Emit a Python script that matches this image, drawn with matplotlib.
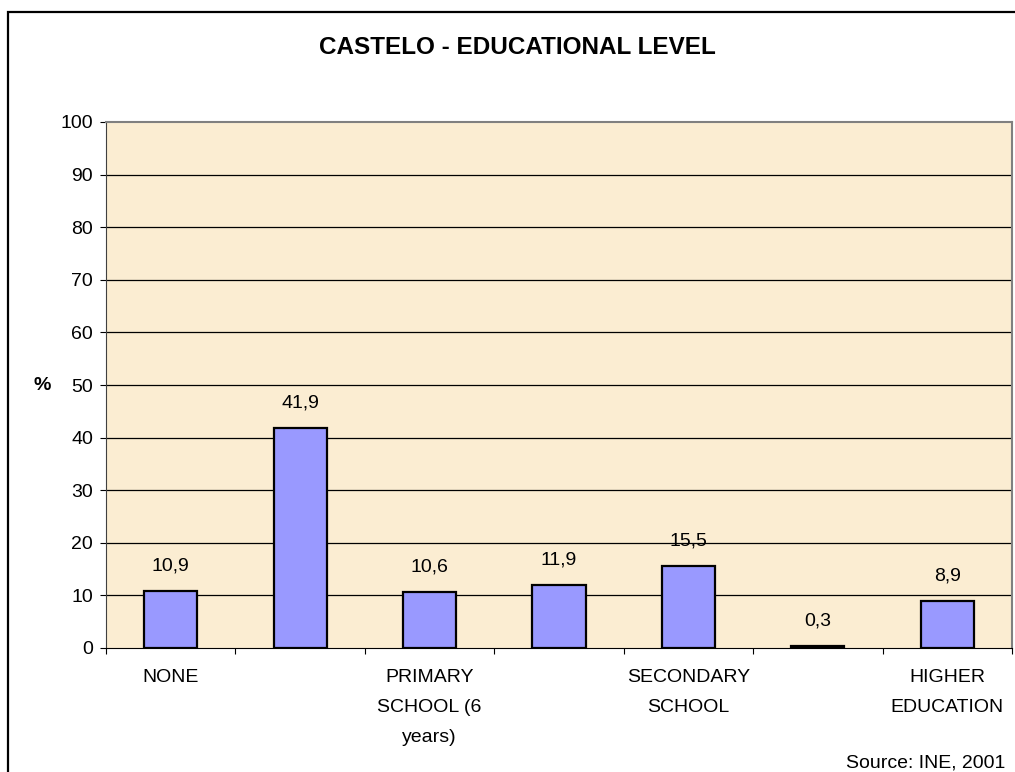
import matplotlib
matplotlib.use('Agg')
import matplotlib.pyplot as plt
from matplotlib.patches import Rectangle
import numpy as np

plt.rcParams['font.family'] = ['Liberation Sans', 'DejaVu Sans']

categories = ['NONE', '', 'PRIMARY\nSCHOOL (6\nyears)', '', 'SECONDARY\nSCHOOL', '', 'HIGHER\nEDUCATION']
values = [10.9, 41.9, 10.6, 11.9, 15.5, 0.3, 8.9]
yticks = [0, 10, 20, 30, 40, 50, 60, 70, 80, 90, 100]

W, H = 1015, 772
fig = plt.figure(figsize=(W / 100, H / 100), dpi=100)
ax = fig.add_axes([106 / W, (H - 648) / H, 906 / W, 526 / H])
ax.set_facecolor('#FBEDD2')

x = np.arange(len(values))
ax.bar(x, values, width=0.41, color='#9999FF', edgecolor='black', linewidth=1.6, zorder=3)

for xi, v in zip(x, values):
    ax.annotate(f'{v:.1f}'.replace('.', ','), (xi, v), xytext=(0, 18),
                textcoords='offset points', ha='center', va='center', fontsize=14, zorder=4)

ax.set_xlim(-0.5, len(values) - 0.5)
ax.set_ylim(0, 100)
ax.set_yticks(yticks)
ax.tick_params(axis='y', direction='out', length=4.3, width=0.8, pad=5, labelsize=14)

# category labels at bar centres, tick marks at category boundaries
ax.set_xticks(x)
ax.set_xticklabels(categories, fontsize=14, linespacing=2.02, va='top')
ax.set_xticks(np.arange(-0.5, len(values)), minor=True)
ax.tick_params(axis='x', which='major', length=0, pad=15)
ax.tick_params(axis='x', which='minor', direction='out', length=4.3, width=0.8)

for y in yticks[1:-1]:
    ax.axhline(y, color='black', linewidth=0.9, zorder=1)

for side in ['top', 'right']:
    ax.spines[side].set_color('#808080')
    ax.spines[side].set_linewidth(1.5)
ax.spines['left'].set_color('#404040')
ax.spines['bottom'].set_color('black')

fig.text(517 / W, 1 - 48 / H, 'CASTELO - EDUCATIONAL LEVEL', ha='center', va='center',
         fontsize=17.5, fontweight='bold')
fig.text(42 / W, 1 - 385 / H, '%', ha='center', va='center', fontsize=14, fontweight='bold')
fig.text(1005 / W, 1 - 763 / H, 'Source: INE, 2001', ha='right', va='center', fontsize=14)

# chart area border
fig.patches.append(Rectangle((8 / W, -0.1), 1.2, 1.1 - 12 / H, transform=fig.transFigure,
                             fill=False, edgecolor='black', linewidth=1.6))

fig.savefig('out.png', dpi=100)
